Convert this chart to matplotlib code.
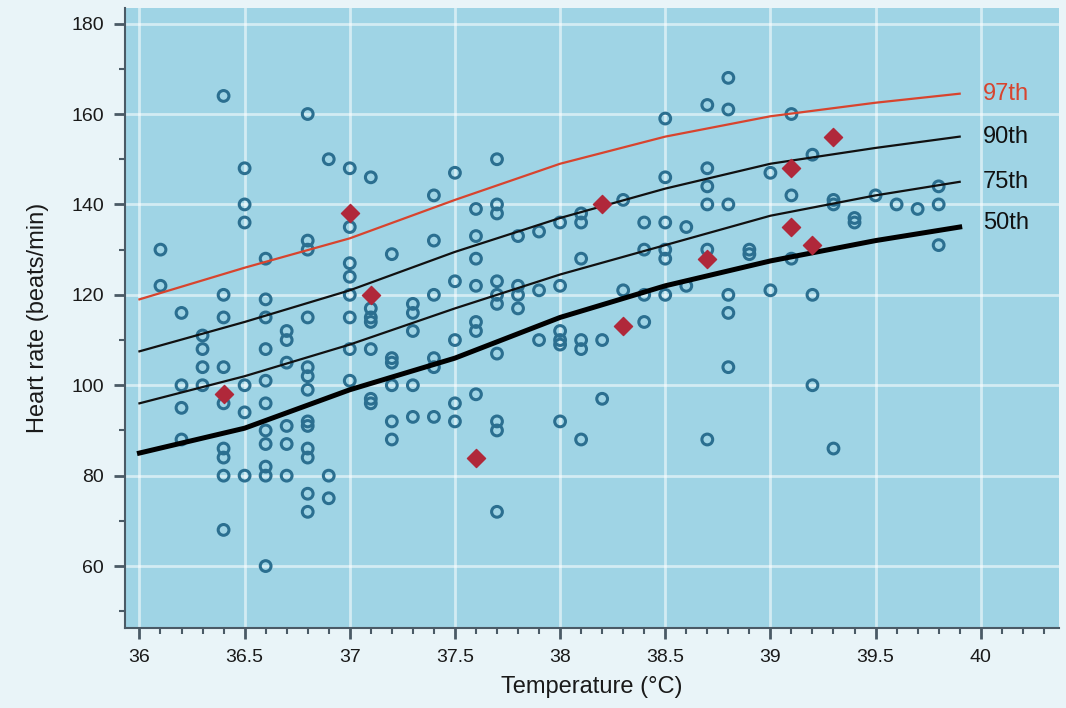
import numpy as np
import matplotlib.pyplot as plt
from matplotlib.ticker import MultipleLocator

plt.rcParams['font.family'] = ['Liberation Sans', 'DejaVu Sans']

# percentile curves
curve_temp = [36.0, 36.5, 37.0, 37.5, 38.0, 38.5, 39.0, 39.5, 39.9]
p50 = [85, 90.5, 99, 106, 115, 122, 127.5, 132, 135]
p75 = [96, 102, 109, 117, 124.5, 131, 137.5, 142, 145]
p90 = [107.5, 114, 121, 129.5, 137, 143.5, 149, 152.5, 155]
p97 = [119, 126, 132.5, 141, 149, 155, 159.5, 162.5, 164.5]

# open circles: (temperature, heart rate)
circle_temp = [
    36.1, 36.1,
    36.2, 36.2, 36.2, 36.2,
    36.3, 36.3, 36.3, 36.3,
    36.4, 36.4, 36.4, 36.4, 36.4, 36.4, 36.4, 36.4, 36.4,
    36.5, 36.5, 36.5, 36.5, 36.5, 36.5,
    36.6, 36.6, 36.6, 36.6, 36.6, 36.6, 36.6, 36.6, 36.6, 36.6, 36.6,
    36.7, 36.7, 36.7, 36.7, 36.7, 36.7,
    36.8, 36.8, 36.8, 36.8, 36.8, 36.8, 36.8, 36.8, 36.8, 36.8, 36.8, 36.8, 36.8,
    36.9, 36.9, 36.9,
    37.0, 37.0, 37.0, 37.0, 37.0, 37.0, 37.0, 37.0,
    37.1, 37.1, 37.1, 37.1, 37.1, 37.1, 37.1,
    37.2, 37.2, 37.2, 37.2, 37.2, 37.2,
    37.3, 37.3, 37.3, 37.3, 37.3,
    37.4, 37.4, 37.4, 37.4, 37.4, 37.4,
    37.5, 37.5, 37.5, 37.5, 37.5,
    37.6, 37.6, 37.6, 37.6, 37.6, 37.6, 37.6,
    37.7, 37.7, 37.7, 37.7, 37.7, 37.7, 37.7, 37.7, 37.7, 37.7,
    37.8, 37.8, 37.8, 37.8,
    37.9, 37.9, 37.9,
    38.0, 38.0, 38.0, 38.0, 38.0, 38.0,
    38.1, 38.1, 38.1, 38.1, 38.1, 38.1,
    38.2, 38.2,
    38.3, 38.3,
    38.4, 38.4, 38.4, 38.4,
    38.5, 38.5, 38.5, 38.5, 38.5, 38.5,
    38.6, 38.6,
    38.7, 38.7, 38.7, 38.7, 38.7, 38.7,
    38.8, 38.8, 38.8, 38.8, 38.8, 38.8,
    38.9, 38.9,
    39.0, 39.0,
    39.1, 39.1, 39.1,
    39.2, 39.2, 39.2,
    39.3, 39.3, 39.3,
    39.4, 39.4,
    39.5, 39.6, 39.7,
    39.8, 39.8, 39.8,
]
circle_hr = [
    130, 122,
    116, 100, 95, 88,
    111, 108, 104, 100,
    164, 120, 115, 104, 96, 86, 84, 80, 68,
    148, 140, 136, 100, 94, 80,
    128, 119, 115, 108, 101, 96, 90, 87, 82, 80, 60,
    112, 110, 105, 91, 87, 80,
    160, 132, 130, 115, 104, 102, 99, 92, 91, 86, 84, 76, 72,
    150, 80, 75,
    148, 135, 127, 124, 120, 115, 108, 101,
    146, 117, 115, 114, 108, 97, 96,
    129, 106, 105, 100, 92, 88,
    118, 116, 112, 100, 93,
    142, 132, 120, 106, 104, 93,
    147, 123, 110, 96, 92,
    139, 133, 128, 122, 114, 112, 98,
    150, 140, 138, 123, 120, 118, 107, 92, 90, 72,
    133, 122, 120, 117,
    134, 121, 110,
    136, 122, 112, 110, 109, 92,
    138, 136, 128, 110, 108, 88,
    110, 97,
    141, 121,
    136, 130, 120, 114,
    159, 146, 136, 130, 128, 120,
    135, 122,
    162, 148, 144, 140, 130, 88,
    168, 161, 140, 120, 116, 104,
    130, 129,
    147, 121,
    160, 142, 128,
    151, 120, 100,
    141, 140, 86,
    137, 136,
    142, 140, 139,
    144, 140, 131,
]

# filled red diamonds
diamond_temp = [36.4, 37.0, 37.1, 37.6, 38.2, 38.3, 38.7, 39.1, 39.1, 39.2, 39.3]
diamond_hr = [98, 138, 120, 84, 140, 113, 128, 148, 135, 131, 155]

curve_labels = ["97th", "90th", "75th", "50th"]


fig = plt.figure(figsize=(10.66, 7.08), dpi=100)
fig.patch.set_facecolor("#e9f4f8")
ax = fig.add_axes([0.117, 0.113, 0.876, 0.876])
ax.set_facecolor("#9fd4e5")

ax.grid(True, which="major", color="white", alpha=0.55, linewidth=2)
ax.set_axisbelow(True)

ax.scatter(circle_temp, circle_hr, s=60, facecolors="none", edgecolors="#2b6f90",
           linewidths=2.2, zorder=3)
ax.plot(curve_temp, p97, color="#d8442e", lw=1.6, zorder=4)
ax.plot(curve_temp, p90, color="#111111", lw=1.6, zorder=4)
ax.plot(curve_temp, p75, color="#111111", lw=1.6, zorder=4)
ax.plot(curve_temp, p50, color="#000000", lw=3.6, zorder=4)
ax.scatter(diamond_temp, diamond_hr, s=85, marker="D", color="#b0283a", zorder=5)

label_y = [p97[-1], p90[-1], p75[-1], p50[-1] + 1]
label_colors = ["#d8442e", "#111111", "#111111", "#111111"]
for lab, yv, c in zip(curve_labels, label_y, label_colors):
    ax.text(40.01, yv, lab, color=c, fontsize=17, va="center", ha="left")

ax.set_xlim(35.93, 40.37)
ax.set_ylim(46.3, 183.5)
ax.xaxis.set_major_locator(MultipleLocator(0.5))
ax.xaxis.set_minor_locator(MultipleLocator(0.1))
ax.yaxis.set_major_locator(MultipleLocator(20))
ax.yaxis.set_minor_locator(MultipleLocator(10))
ax.set_xticks([36, 36.5, 37, 37.5, 38, 38.5, 39, 39.5, 40])
ax.set_xticklabels(["36", "36.5", "37", "37.5", "38", "38.5", "39", "39.5", "40"])

for side in ["top", "right"]:
    ax.spines[side].set_visible(False)
for side in ["left", "bottom"]:
    ax.spines[side].set_color("#4a5a66")
    ax.spines[side].set_linewidth(1.5)
ax.tick_params(which="major", direction="out", length=8, width=2, color="#4a5a66",
               labelsize=14, labelcolor="#1a1a1a", pad=7)
ax.tick_params(which="minor", direction="out", length=4, width=1.5, color="#4a5a66")

ax.set_xlabel("Temperature (°C)", fontsize=17, color="#1a1a1a", labelpad=7)
ax.set_ylabel("Heart rate (beats/min)", fontsize=17, color="#1a1a1a", labelpad=16)

plt.savefig("out.png", dpi=100, facecolor=fig.get_facecolor())
